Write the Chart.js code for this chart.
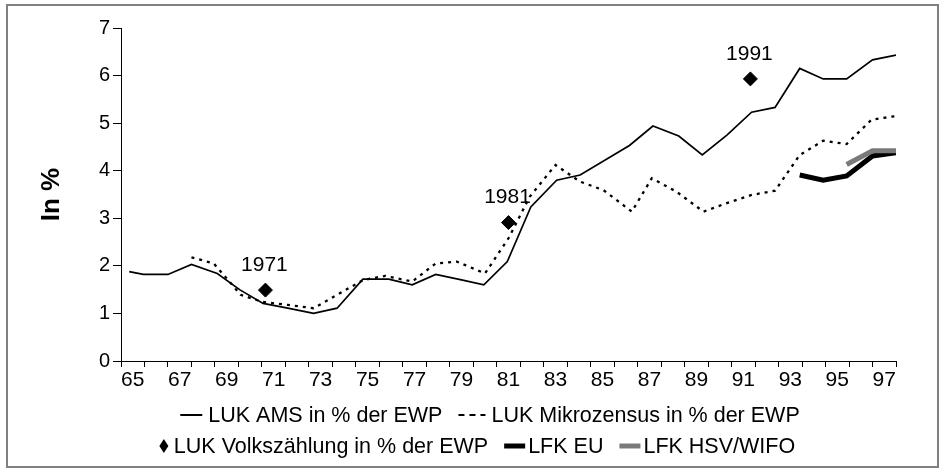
<!DOCTYPE html>
<html>
<head>
<meta charset="utf-8">
<script src="https://cdn.jsdelivr.net/npm/chart.js@4.4.1/dist/chart.umd.min.js"></script>
<style>
html,body{margin:0;padding:0;background:#fff;}
#wrap{width:945px;height:472px;position:relative;}
canvas{display:block;}
</style>
</head>
<body>
<div id="wrap"><canvas id="c" width="945" height="472"></canvas></div>
<script>
// ---- data ----
const tickYears = [65,66,67,68,69,70,71,72,73,74,75,76,77,78,79,80,81,82,83,84,85,86,87,88,89,90,91,92,93,94,95,96,97];
const yTicks = [0,1,2,3,4,5,6,7];

const amsYears  = [64.85,65.45,66.5,67.5,68.6,69.55,70.55,71.6,72.7,73.7,74.8,75.9,76.9,77.9,78.95,79.95,80.95,81.95,83.05,84.05,86.15,87.15,88.25,89.25,90.3,91.35,92.35,93.4,94.4,95.4,96.5,97.5];
const amsValues = [1.88,1.82,1.82,2.03,1.84,1.5,1.21,1.11,1.0,1.11,1.72,1.72,1.6,1.82,1.71,1.6,2.09,3.24,3.8,3.91,4.53,4.94,4.73,4.33,4.75,5.23,5.33,6.15,5.93,5.93,6.33,6.43];

const mikroYears  = [67.5,68.45,69.6,70.55,71.6,72.7,73.7,74.8,75.75,76.9,77.9,78.8,80.0,81.0,81.9,83.0,84.05,85.05,86.25,87.1,88.15,89.3,90.3,91.35,92.35,93.4,94.4,95.4,96.45,97.5];
const mikroValues = [2.18,2.05,1.39,1.24,1.18,1.11,1.39,1.70,1.79,1.67,2.05,2.09,1.84,2.58,3.45,4.12,3.77,3.59,3.14,3.84,3.56,3.14,3.32,3.49,3.58,4.33,4.63,4.56,5.07,5.15];

const vzYears  = [70.65,81.0,91.3];
const vzValues = [1.49,2.91,5.93];
const vzLabels = ['1971','1981','1991'];

const euYears  = [93.4,94.4,95.4,96.5,97.5];
const euValues = [3.91,3.80,3.89,4.31,4.38];

const hsvYears  = [95.4,96.5,97.5];
const hsvValues = [4.13,4.42,4.42];

const seriesNames = ['LUK AMS in % der EWP','LUK Mikrozensus in % der EWP','LUK Volkszählung in % der EWP','LFK EU','LFK HSV/WIFO'];
const yTitle = 'In %';

// ---- helpers ----
const FONT = '"Liberation Sans", Arial, Helvetica, sans-serif';
const pts = (xs, ys) => xs.map((x, i) => ({x: x, y: ys[i]}));

const borderPlugin = {
  id: 'outerBorder',
  beforeDraw(chart) {
    const ctx = chart.ctx;
    ctx.save();
    ctx.fillStyle = '#fff';
    ctx.fillRect(0, 0, chart.width, chart.height);
    ctx.strokeStyle = '#808080';
    ctx.lineWidth = 2;
    ctx.strokeRect(7, 5, 931, 462);
    ctx.restore();
  }
};

const pointLabelPlugin = {
  id: 'pointLabels',
  afterDatasetsDraw(chart) {
    const ctx = chart.ctx;
    chart.data.datasets.forEach((ds, di) => {
      if (!ds.pointLabels) return;
      const meta = chart.getDatasetMeta(di);
      ctx.save();
      ctx.font = '21px ' + FONT;
      ctx.fillStyle = '#000';
      ctx.textAlign = 'center';
      ctx.textBaseline = 'middle';
      meta.data.forEach((el, i) => {
        ctx.fillText(ds.pointLabels[i], el.x - 1, el.y - 25);
      });
      ctx.restore();
    });
  }
};

const legendRows = [
  {center: 490, y: 415, items: [0, 1]},
  {center: 477, y: 446, items: [2, 3, 4]}
];

const legendPlugin = {
  id: 'customLegend',
  afterDraw(chart) {
    const ctx = chart.ctx;
    const dsets = chart.data.datasets;
    ctx.save();
    ctx.font = '21.5px ' + FONT;
    ctx.textBaseline = 'middle';
    legendRows.forEach(row => {
      const parts = row.items.map(i => {
        const ds = dsets[i];
        const m = ds.legendMarker;
        const tw = ctx.measureText(ds.label).width;
        return {ds, m, tw, w: m.len + m.gap + tw};
      });
      const itemGap = 16;
      const total = parts.reduce((s, p) => s + p.w, 0) + itemGap * (parts.length - 1);
      let x = row.center - total / 2;
      const y = row.y;
      parts.forEach(p => {
        const m = p.m;
        ctx.save();
        if (m.type === 'line' || m.type === 'dash' || m.type === 'bar') {
          ctx.strokeStyle = p.ds.borderColor;
          ctx.lineWidth = m.type === 'bar' ? 5 : 2;
          ctx.setLineDash(m.type === 'dash' ? [6, 5] : []);
          ctx.beginPath();
          ctx.moveTo(x, y);
          ctx.lineTo(x + m.len, y);
          ctx.stroke();
        } else if (m.type === 'diamond') {
          const cx = x + m.len / 2, r = 5;
          ctx.fillStyle = '#000';
          ctx.beginPath();
          ctx.moveTo(cx, y - r - 2);
          ctx.lineTo(cx + r - 0.5, y);
          ctx.lineTo(cx, y + r + 2);
          ctx.lineTo(cx - r + 0.5, y);
          ctx.closePath();
          ctx.fill();
        }
        ctx.restore();
        ctx.fillStyle = '#000';
        ctx.fillText(p.ds.label, x + m.len + m.gap, y + 1);
        x += p.w + itemGap;
      });
    });
    ctx.restore();
  }
};

new Chart(document.getElementById('c'), {
  type: 'line',
  data: {
    datasets: [
      {
        label: seriesNames[0], data: pts(amsYears, amsValues),
        borderColor: '#000', borderWidth: 1.7, pointRadius: 0, tension: 0, order: 3,
        legendMarker: {type: 'line', len: 22, gap: 6}
      },
      {
        label: seriesNames[1], data: pts(mikroYears, mikroValues),
        borderColor: '#000', borderWidth: 2.3, borderDash: [3, 5], pointRadius: 0, tension: 0, order: 4,
        legendMarker: {type: 'dash', len: 27, gap: 6}
      },
      {
        label: seriesNames[2], data: pts(vzYears, vzValues), pointLabels: vzLabels,
        showLine: false, pointStyle: 'rectRot', pointRadius: 7, borderWidth: 1,
        backgroundColor: '#000', borderColor: '#000', order: 0,
        legendMarker: {type: 'diamond', len: 10, gap: 5}
      },
      {
        label: seriesNames[3], data: pts(euYears, euValues),
        borderColor: '#000', borderWidth: 5, pointRadius: 0, tension: 0, order: 2,
        legendMarker: {type: 'bar', len: 21, gap: 3}
      },
      {
        label: seriesNames[4], data: pts(hsvYears, hsvValues),
        borderColor: '#7a7a7a', borderWidth: 5, pointRadius: 0, tension: 0, order: 1,
        legendMarker: {type: 'bar', len: 21, gap: 3}
      }
    ]
  },
  options: {
    responsive: false,
    animation: false,
    devicePixelRatio: 1,
    layout: {padding: {left: 8, right: 49, top: 28, bottom: 0}},
    plugins: {
      legend: {display: false},
      tooltip: {enabled: false}
    },
    scales: {
      x: {
        type: 'linear', min: 64.5, max: 97.5,
        afterBuildTicks: s => { s.ticks = tickYears.map(v => ({value: v})); },
        afterFit: s => { s.height = 111; },
        ticks: {
          autoSkip: false, maxRotation: 0, minRotation: 0, padding: 1,
          color: '#000', font: {family: FONT, size: 21},
          callback: v => (v % 2 === 1 ? String(v) : '')
        },
        grid: {offset: true, drawOnChartArea: false, tickLength: 6, color: '#000', tickWidth: 1},
        border: {color: '#000', width: 1}
      },
      y: {
        min: 0, max: 7,
        afterBuildTicks: s => { s.ticks = yTicks.map(v => ({value: v})); },
        afterFit: s => { s.width = 113; },
        ticks: {padding: 3, color: '#000', font: {family: FONT, size: 20}},
        grid: {drawOnChartArea: false, tickLength: 8, color: '#000'},
        border: {color: '#000', width: 1},
        title: {display: true, text: yTitle, color: '#000', font: {family: FONT, size: 26, weight: 'bold'}, padding: {top: 28, bottom: 0}}
      }
    }
  },
  plugins: [borderPlugin, pointLabelPlugin, legendPlugin]
});
</script>
</body>
</html>
